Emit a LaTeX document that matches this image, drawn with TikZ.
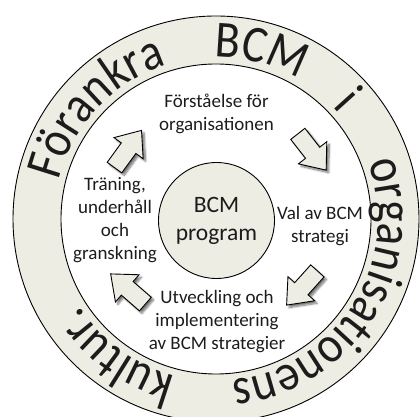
\documentclass[tikz,border=0pt]{standalone}
\usepackage{fontspec}
\setmainfont{Carlito}
\newfontfamily\ringfam{Carlito}[FakeStretch=0.88]
\usetikzlibrary{shadows.blur,decorations.text,calc}
\definecolor{ringfill}{RGB}{238,237,227}
\definecolor{inktext}{RGB}{28,28,28}
\newcommand{\ringfont}{\ringfam\fontsize{52}{52}\selectfont\color{inktext}}

\begin{document}
\begin{tikzpicture}[x=1pt,y=1pt,
  stage/.style={align=center,font=\fontsize{19}{23}\selectfont,text=inktext,inner sep=0pt},
  blockarrow/.pic={
    \path[draw=black,line width=0.9pt,fill=ringfill,line join=miter,
      blur shadow={shadow xshift=2.5pt,shadow yshift=-2.5pt,shadow blur steps=8,shadow opacity=55}]
      (-23,-9) -- (1,-9) -- (1,-18) -- (23,0) -- (1,18) -- (1,9) -- (-23,9) -- cycle;
  },
  ringword/.style={decorate,decoration={text along path,text align=center,text={|\ringfont|#1}}}
]
\useasboundingbox (0,0) rectangle (420,417);
\coordinate (c) at (216,198);

% outer ring
\fill[ringfill,even odd rule] (c) circle[radius=203] (c) circle[radius=155];
\draw[line width=0.9pt] (c) circle[radius=203];
\draw[line width=0.9pt] (c) circle[radius=155];

% words running clockwise round the ring
\path[ringword=Förankra] ($(c)+(197:162)$) arc[start angle=197,end angle=77,radius=162];
\path[ringword=BCM] ($(c)+(115:162)$) arc[start angle=115,end angle=35,radius=162];
\path[ringword=i] ($(c)+(72:162)$) arc[start angle=72,end angle=12,radius=162];
\path[ringword=organisationens] ($(c)+(38:162)$) arc[start angle=38,end angle=-102,radius=162];
\path[ringword=kultur.] ($(c)+(-66:162)$) arc[start angle=-66,end angle=-186,radius=162];

% centre
\node[circle,draw=black,line width=0.9pt,fill=ringfill,minimum size=116pt,inner sep=0pt,
  align=center,font=\fontsize{23.5}{28}\selectfont,text=inktext] (prog) at (216.5,196.5) {BCM\\program};

% cycle stages
\node[stage] (s1) at (216.5,303) {Förståelse för\\organisationen};
\node[stage] (s2) at (320,191) {Val av BCM\\strategi};
\node[stage] (s3) at (217,95) {Utveckling och\\implementering\\av BCM strategier};
\node[stage] (s4) at (115,197) {Träning,\\underhåll\\och\\granskning};

% arrows between stages
\pic[rotate=54] (a1) at (128,268) {blockarrow};
\pic[rotate=-52] (a2) at (312,265) {blockarrow};
\pic[rotate=228] (a3) at (302,129) {blockarrow};
\pic[rotate=139] (a4) at (128,128) {blockarrow};
\end{tikzpicture}
\end{document}
